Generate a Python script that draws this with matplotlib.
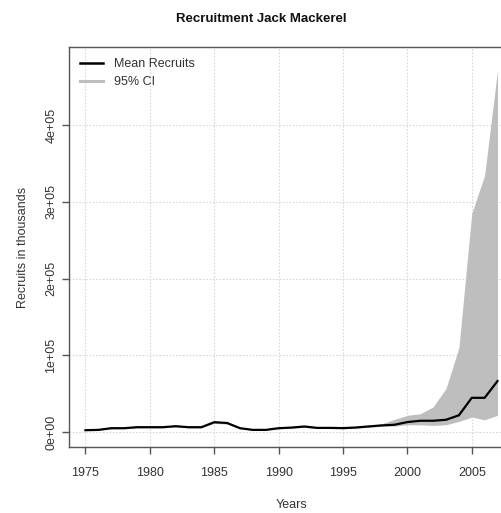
import matplotlib
matplotlib.use("Agg")
import matplotlib.pyplot as plt
from matplotlib.lines import Line2D
import numpy as np

plt.rcParams["font.family"] = ["Liberation Sans", "DejaVu Sans"]

years = np.arange(1975, 2008)
mean_recruits = [2600, 3000, 5200, 5200, 6500, 6500, 6500, 7800, 6500, 6500,
                 13000, 12000, 5200, 3000, 3000, 5200, 6000, 7400, 5600, 5600,
                 5300, 6100, 7500, 8800, 9700, 13200, 14900, 14900, 16200, 22000,
                 44800, 44800, 66700]
ci_upper = [3100, 3500, 6000, 6000, 7400, 7400, 7400, 8900, 7400, 7400,
            14500, 13500, 6000, 3500, 3500, 6000, 6900, 8400, 6400, 6400,
            6100, 7000, 8800, 11000, 16700, 22000, 24000, 33000, 57000, 110000,
            285000, 335000, 472000]
ci_lower = [2200, 2500, 4500, 4500, 5600, 5600, 5600, 6800, 5600, 5600,
            11500, 10500, 4500, 2500, 2500, 4500, 5200, 6400, 4800, 4800,
            4600, 5300, 6400, 7900, 7900, 9700, 9700, 8800, 9700, 14000,
            19700, 16200, 22000]

xticks = [1975, 1980, 1985, 1990, 1995, 2000, 2005]
yticks = [0, 100000, 200000, 300000, 400000]
ytick_labels = ["0e+00", "1e+05", "2e+05", "3e+05", "4e+05"]

txt = "#333333"
fig = plt.figure(figsize=(5.02, 5.13), dpi=100)
# plot box runs past the right edge of the picture, as in the reference
ax = fig.add_axes([69 / 502, 66 / 513, 445 / 502, 400 / 513])

ax.fill_between(years, ci_lower, ci_upper, color="#BEBEBE", lw=0)
ax.plot(years, mean_recruits, color="black", lw=1.6)

ax.set_xlim(1973.72, 2008.28)
ax.set_ylim(-19300, 502000)
ax.set_xticks(xticks)
ax.set_yticks(yticks)
ax.set_yticklabels(ytick_labels, rotation=90, va="center")
ax.grid(True, color="#D8D8D8", linestyle=(0, (1.5, 1.5)), lw=0.8)
ax.set_axisbelow(True)

for s in ax.spines.values():
    s.set_color("#555555")
    s.set_linewidth(1)
ax.tick_params(direction="out", length=5, width=1, color="#555555",
               labelsize=9, labelcolor=txt)
ax.tick_params(axis="x", pad=9.5)
ax.tick_params(axis="y", pad=3.5)

ax.set_xlabel("Years", fontsize=9, color=txt, labelpad=14)
ax.set_ylabel("Recruits in thousands", fontsize=9, color=txt, labelpad=12)
fig.text(261 / 502, 1 - 19 / 513, "Recruitment Jack Mackerel", ha="center", va="center",
         fontsize=9.5, fontweight="bold", color="#111111")

leg_handles = [Line2D([], [], color="black", lw=1.8), Line2D([], [], color="#BEBEBE", lw=2.2)]
ax.legend(leg_handles, ["Mean Recruits", "95% CI"], loc="upper left", frameon=False,
          fontsize=9, handlelength=1.8, handletextpad=0.9, labelspacing=0.45,
          borderaxespad=0.5, labelcolor=txt)

fig.savefig("out.png", dpi=100)
